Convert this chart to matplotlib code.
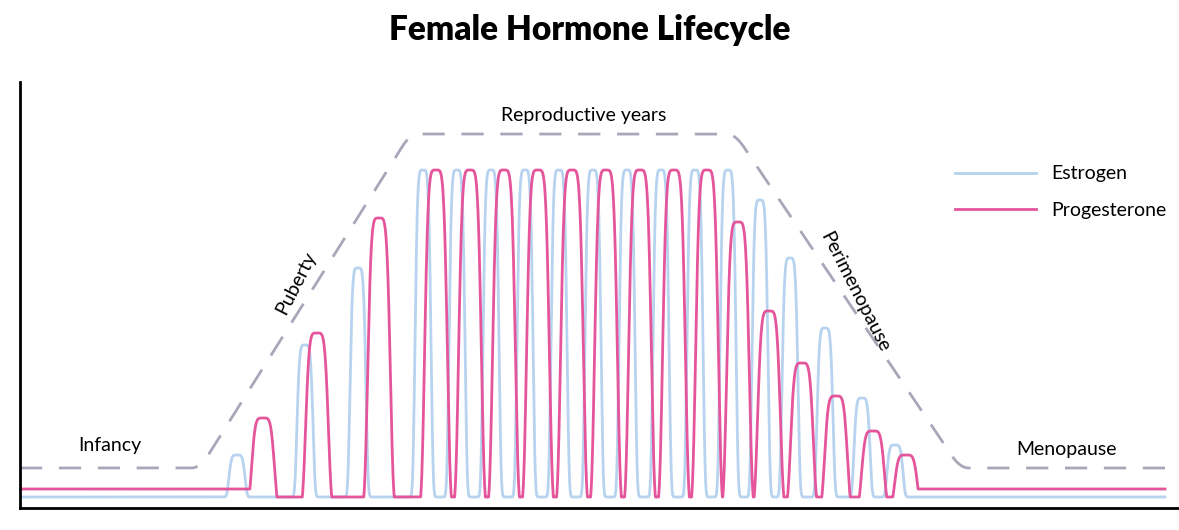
import numpy as np
import matplotlib
matplotlib.use("Agg")
import matplotlib.pyplot as plt

# ---- data (levels above the x-axis) ----
estrogen_pos = [237, 305, 358, 423, 457, 491, 525, 559, 593, 627, 661, 695, 728, 760, 790, 825, 862, 895]
estrogen_lvl = [53, 163, 240, 338, 338, 338, 338, 338, 338, 338, 338, 338, 338, 308, 250, 180, 110, 63]
estrogen_base = 11
progest_pos = [263, 317, 379, 436, 470, 504, 538, 572, 606, 640, 674, 707, 738, 769, 802, 836, 873, 906]
progest_lvl = [90, 175, 290, 338, 338, 338, 338, 338, 338, 338, 338, 338, 286, 197, 145, 112, 77, 53]
progest_base = 19
envelope_x = [20, 200, 410, 735, 960, 1165]
envelope_y = [40, 40, 374, 374, 40, 40]
phase_labels = ["Infancy", "Puberty", "Reproductive years", "Perimenopause", "Menopause"]

fig = plt.figure(figsize=(11.79, 5.30), dpi=100)
ax = fig.add_axes([20/1179, 22/530, 1159/1179, 426/530])
ax.set_xlim(20, 1179)
ax.set_ylim(0, 426)

x = np.linspace(20, 1165, 8000)

def signal(pos, lvl, base, w, p):
    y = np.full_like(x, float(base))
    for c, h in zip(pos, lvl):
        b = np.exp(-np.abs((x - c) / w) ** p)
        y = np.maximum(y, base + (h - base) * b)
    return y

est = signal(estrogen_pos, estrogen_lvl, estrogen_base, 8.5, 5)
prog_min = np.interp(x, [20, 250, 255, 910, 915, 1165],
                     [progest_base, progest_base, estrogen_base, estrogen_base, progest_base, progest_base])
prog = np.maximum(signal(progest_pos, progest_lvl, 0, 12, 5), prog_min)

ex = np.interp(x, envelope_x, envelope_y)
n = 120
pad = np.pad(ex, n, mode="edge")
ex_s = np.convolve(pad, np.ones(n) / n, mode="same")[n:-n]

ax.plot(x, ex_s, color="#aaa6ba", lw=2, dashes=(8, 6))
ax.plot(x, est, color="#b7d3ef", lw=2, label="Estrogen")
ax.plot(x, prog, color="#e5559b", lw=2, label="Progesterone")

for s in ["top", "right"]:
    ax.spines[s].set_visible(False)
for s in ["left", "bottom"]:
    ax.spines[s].set_linewidth(2)
ax.set_xticks([])
ax.set_yticks([])

fs = 14
ax.text(110, 63, phase_labels[0], fontsize=fs, ha="center", va="center", family="Lato")
ax.text(296, 225, phase_labels[1], fontsize=fs, ha="center", va="center", rotation=63, family="Lato")
ax.text(584, 392, phase_labels[2], fontsize=fs, ha="center", va="center", family="Lato")
ax.text(855, 216, phase_labels[3], fontsize=fs, ha="center", va="center", rotation=-63, family="Lato")
ax.text(1066, 58, phase_labels[4], fontsize=fs, ha="center", va="center", family="Lato")

fig.text(0.5, 1 - 30/530, "Female Hormone Lifecycle", ha="center", va="center",
         fontsize=24, fontweight="heavy", family="Lato")

ax.legend(loc="upper left", bbox_to_anchor=(937/1179, 1 - 148/530), bbox_transform=fig.transFigure,
          frameon=False, handlelength=4.2, handletextpad=0.8, labelspacing=1.0,
          prop={"family": "Lato", "size": 14})

fig.savefig("out.png", dpi=100)
